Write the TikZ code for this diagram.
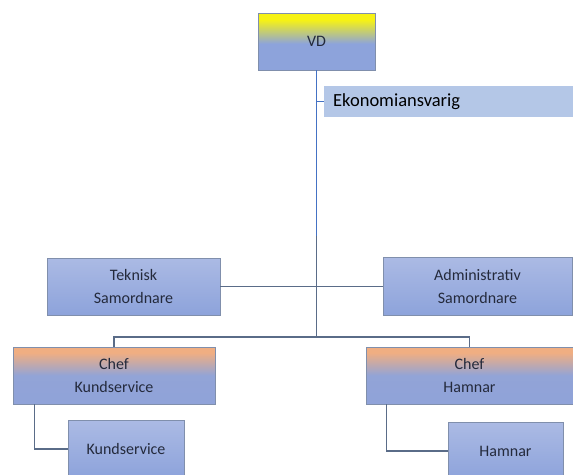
\documentclass[tikz,border=0pt]{standalone}
\usepackage{fontspec}
\setmainfont{Carlito}
\usetikzlibrary{positioning}

\definecolor{boxtop}{RGB}{171,186,228}
\definecolor{boxbot}{RGB}{141,163,219}
\definecolor{vdtop}{RGB}{246,242,20}
\definecolor{cheftop}{RGB}{240,174,130}
\definecolor{ekofill}{RGB}{180,199,231}
\definecolor{boxline}{RGB}{128,143,172}
\definecolor{trunkblue}{RGB}{68,114,196}
\definecolor{linkgray}{RGB}{90,108,136}
\definecolor{boxtext}{RGB}{36,42,60}

\pgfdeclareverticalshading{vdshade}{100bp}{color(0bp)=(boxbot); color(48bp)=(boxbot); color(69bp)=(vdtop); color(100bp)=(vdtop)}
\pgfdeclareverticalshading{chefshade}{100bp}{color(0bp)=(boxbot); color(50bp)=(boxbot!95!cheftop); color(70bp)=(cheftop); color(100bp)=(cheftop)}

\tikzset{
  unit/.style={draw=boxline, line width=0.8pt, top color=boxtop, bottom color=boxbot,
    text=boxtext, align=center, inner sep=0pt, font=\fontsize{16}{23}\selectfont},
  vdbox/.style={unit, shading=vdshade},
  chefbox/.style={unit, shading=chefshade},
  link/.style={draw=linkgray, line width=1.5pt},
  trunk/.style={draw=trunkblue, line width=1.5pt}
}

\begin{document}
\begin{tikzpicture}[x=1pt, y=-1pt]
\useasboundingbox (0,0) rectangle (573,474);

\node[vdbox, minimum width=117pt, minimum height=57pt] (vd) at (316.5,41.5) {VD};
\node[fill=ekofill, anchor=west, minimum height=31pt, text width=231pt, inner xsep=9pt,
  align=left, font=\fontsize{18.5}{22}\selectfont, text=black] (eko) at (324,101.5) {Ekonomiansvarig};

\node[unit, minimum width=173pt, minimum height=57pt] (tek) at (133.5,286.5) {Teknisk\\Samordnare};
\node[unit, minimum width=189pt, minimum height=58pt] (adm) at (477.5,286.5) {Administrativ\\Samordnare};

\node[chefbox, minimum width=202pt, minimum height=57pt] (chefk) at (114,375.5) {Chef\\Kundservice};
\node[chefbox, minimum width=207pt, minimum height=57pt] (chefh) at (469.5,375.5) {Chef\\Hamnar};

\node[unit, minimum width=116pt, minimum height=57pt] (kund) at (126,449) {Kundservice};
\node[unit, minimum width=115pt, minimum height=57pt] (hamn) at (505.5,451) {Hamnar};

\coordinate (split) at (316.5,236);
\coordinate (bar) at (316.5,337);

\draw[trunk] (vd.south) -- (split);
\draw[trunk] (vd.south |- eko.west) -- (eko.west);
\draw[link] (split) -- (bar);
\draw[link] (tek.east) -- (tek.east -| bar);
\draw[link] (adm.west) -- (adm.west -| bar);
\draw[link] (chefk.north) |- (bar) -| (chefh.north);
\draw[link] ([xshift=22pt]chefk.south west) |- (kund.west);
\draw[link] ([xshift=21pt]chefh.south west) |- (hamn.west);

\end{tikzpicture}
\end{document}
